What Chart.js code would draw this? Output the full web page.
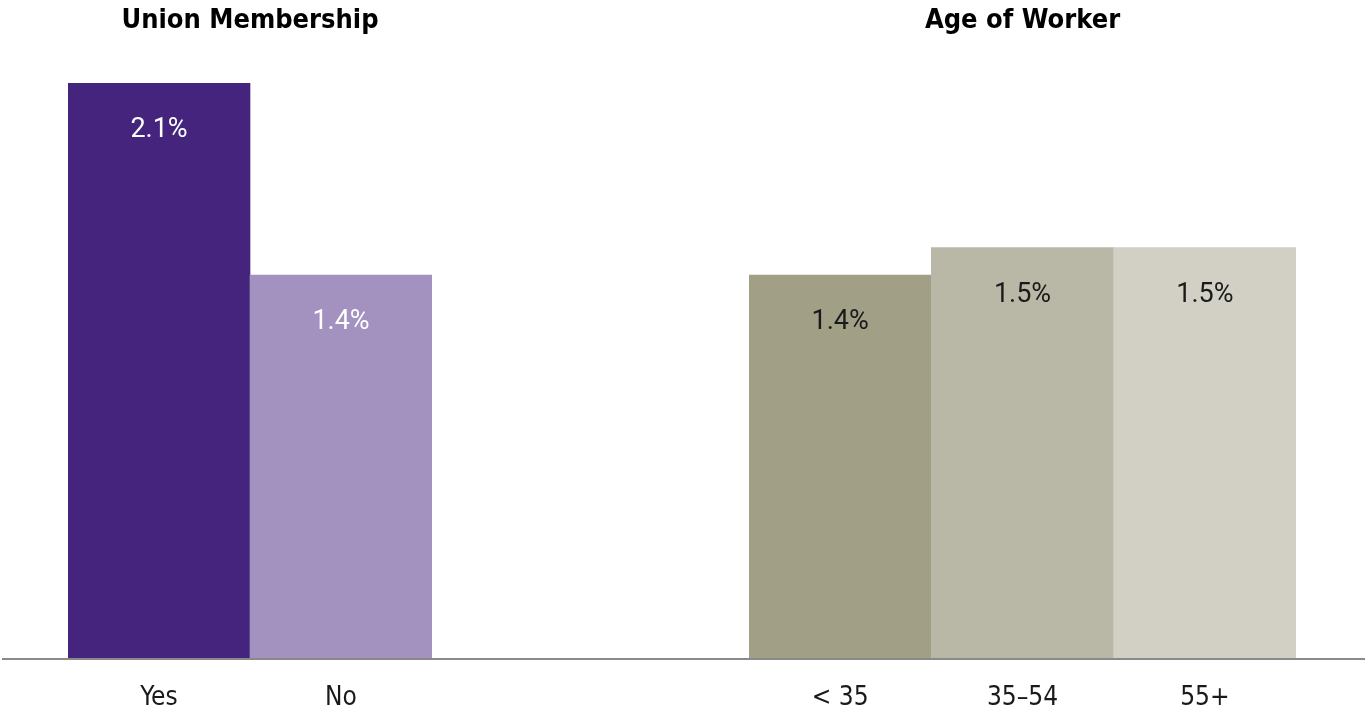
<!DOCTYPE html>
<html>
<head>
<meta charset="utf-8">
<script src="https://cdn.jsdelivr.net/npm/chart.js@4/dist/chart.umd.min.js"></script>
<style>
  html, body { margin: 0; padding: 0; background: #fff; }
  #wrap { position: relative; width: 1368px; height: 718px; overflow: hidden; }
  .box { position: absolute; top: 0; height: 718px; }
  #left-box { left: 0; width: 600px; }
  #right-box { left: 600px; width: 768px; }
</style>
</head>
<body>
<div id="wrap">
  <div class="box" id="left-box"><canvas id="union-chart"></canvas></div>
  <div class="box" id="right-box"><canvas id="age-chart"></canvas></div>
</div>
<script>
// data
const union_title = "Union Membership";
const union_labels = ["Yes", "No"];
const union_values = [2.1, 1.4];

const age_title = "Age of Worker";
const age_labels = ["< 35", "35–54", "55+"];
const age_values = [1.4, 1.5, 1.5];

const y_max = 2.1;

// look
const union_colors = ["#44247d", "#a391c0"];
const union_text_colors = ["#ffffff", "#ffffff"];
const age_colors = ["#a29f87", "#b9b8a7", "#d2d0c5"];
const age_text_colors = ["#1a1a1a", "#1a1a1a", "#1a1a1a"];

const narrow = '"Liberation Sans Narrow", "DejaVu Sans Condensed", "Arial Narrow", sans-serif';

// draws the value inside the top of each bar
const value_labels = {
    id: "value_labels",
    afterDatasetsDraw(chart, args, opts) {
        const ctx = chart.ctx;
        const meta = chart.getDatasetMeta(0);
        const values = chart.data.datasets[0].data;
        ctx.save();
        ctx.font = "27px Roboto, sans-serif";
        ctx.textAlign = "center";
        ctx.textBaseline = "alphabetic";
        meta.data.forEach((bar, i) => {
            ctx.fillStyle = opts.colors[i];
            ctx.fillText(values[i].toFixed(1) + "%", bar.x, bar.y + 54);
        });
        ctx.restore();
    }
};

// grey base line running past the bars
const base_line = {
    id: "base_line",
    afterDatasetsDraw(chart, args, opts) {
        const ctx = chart.ctx;
        const y = chart.scales.y.getPixelForValue(0);
        ctx.save();
        ctx.strokeStyle = "#8a8a8a";
        ctx.lineWidth = 2;
        ctx.beginPath();
        ctx.moveTo(opts.from, y);
        ctx.lineTo(chart.width - opts.trimRight, y);
        ctx.stroke();
        ctx.restore();
    }
};

function make_chart(id, title, labels, values, colors, text_colors, pad_left, pad_right, line_from, line_trim) {
    return new Chart(id, {
        type: "bar",
        data: {
            labels: labels,
            datasets: [{
                data: values,
                backgroundColor: colors,
                borderWidth: 0,
                barPercentage: 1,
                categoryPercentage: 1
            }]
        },
        options: {
            responsive: true,
            maintainAspectRatio: false,
            animation: false,
            layout: { padding: { left: pad_left, right: pad_right, top: 0, bottom: 3 } },
            scales: {
                x: {
                    grid: { display: false, drawTicks: false },
                    border: { display: false },
                    afterFit(scale) { scale.height = 56; },
                    ticks: {
                        color: "#1a1a1a",
                        padding: 24,
                        font: { family: narrow, size: 26 }
                    }
                },
                y: { display: false, min: 0, max: y_max }
            },
            plugins: {
                legend: { display: false },
                tooltip: { enabled: false },
                title: {
                    display: true,
                    text: title,
                    fullSize: false,
                    color: "#000",
                    font: { family: narrow, size: 27, weight: "bold" },
                    padding: { top: 5, bottom: 45.6 }
                },
                value_labels: { colors: text_colors },
                base_line: { from: line_from, trimRight: line_trim }
            }
        },
        plugins: [value_labels, base_line]
    });
}

const union_chart = make_chart("union-chart", union_title, union_labels, union_values,
    union_colors, union_text_colors, 68, 168, 2, 0);
const age_chart = make_chart("age-chart", age_title, age_labels, age_values,
    age_colors, age_text_colors, 149, 72, 0, 3);
</script>
</body>
</html>
